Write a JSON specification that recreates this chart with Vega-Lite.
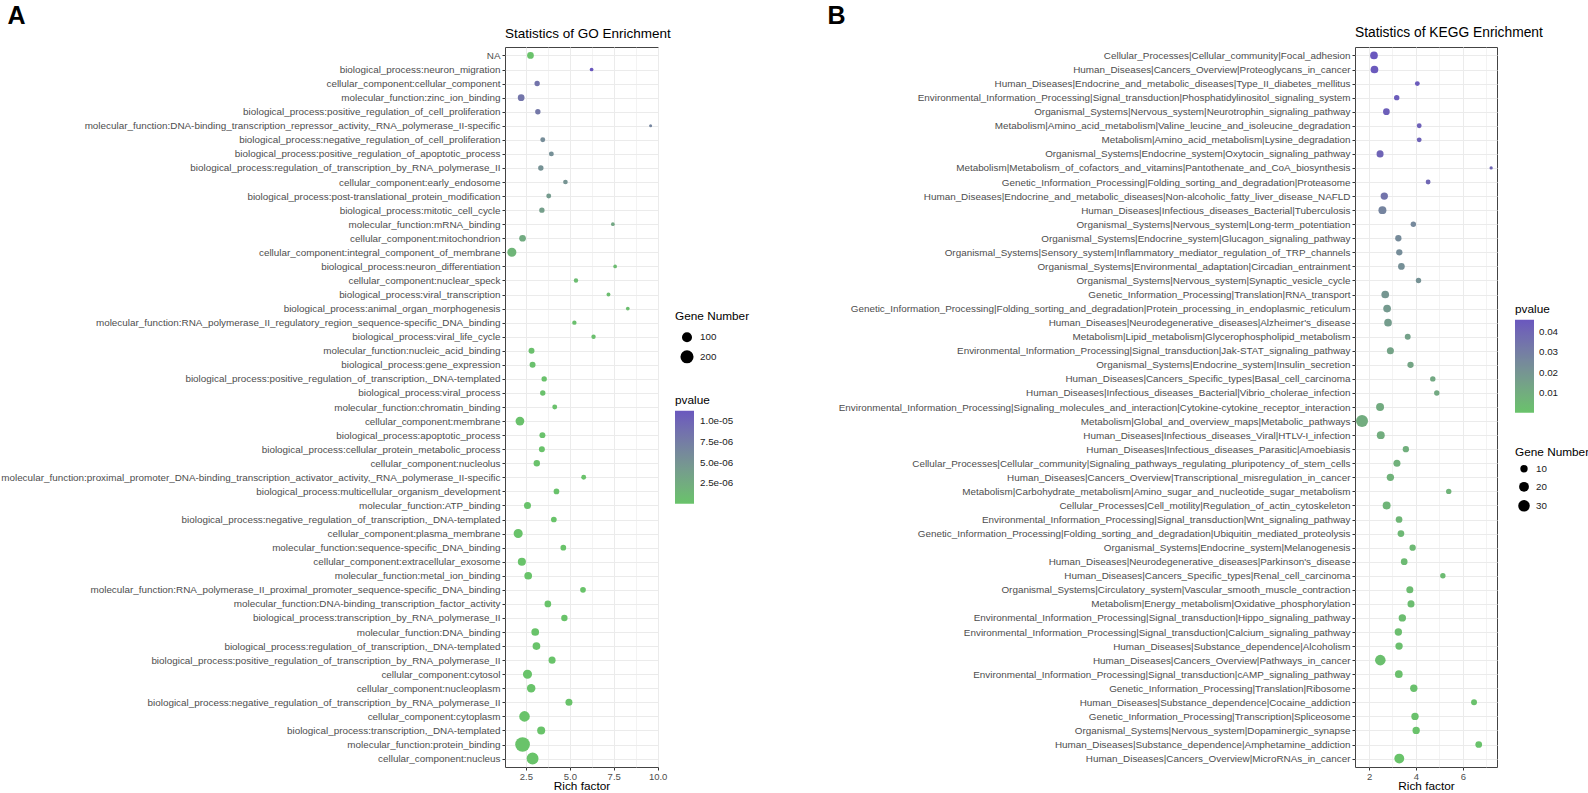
{
  "$schema": "https://vega.github.io/schema/vega-lite/v6.json",
  "background": "white",
  "padding": {"left": 0, "top": 2, "right": 0, "bottom": 0},
  "bounds": "flush",
  "spacing": 697,
  "config": {
    "font": "Liberation Sans",
    "view": {"stroke": "#444444", "strokeWidth": 1},
    "legend": {"titleFontSize": 11.8, "titleFontWeight": "normal", "titleColor": "#000000", "labelFontSize": 9.8, "labelColor": "#1a1a1a", "padding": 0, "labelOffset": 6}
  },
  "resolve": {
    "scale": {"color": "independent", "size": "independent", "x": "independent", "y": "independent"},
    "legend": {"color": "independent", "size": "independent"}
  },
  "datasets": {
    "go": [
      {"term": "NA", "rich": 2.76, "gene": 35, "pvalue": 1.0e-7},
      {"term": "biological_process:neuron_migration", "rich": 6.24, "gene": 8, "pvalue": 1.13e-5},
      {"term": "cellular_component:cellular_component", "rich": 3.14, "gene": 20, "pvalue": 8.4e-6},
      {"term": "molecular_function:zinc_ion_binding", "rich": 2.23, "gene": 35, "pvalue": 8.3e-6},
      {"term": "biological_process:positive_regulation_of_cell_proliferation", "rich": 3.18, "gene": 20, "pvalue": 8.0e-6},
      {"term": "molecular_function:DNA-binding_transcription_repressor_activity,_RNA_polymerase_II-specific", "rich": 9.60, "gene": 5, "pvalue": 6.6e-6},
      {"term": "biological_process:negative_regulation_of_cell_proliferation", "rich": 3.46, "gene": 16, "pvalue": 5.8e-6},
      {"term": "biological_process:positive_regulation_of_apoptotic_process", "rich": 3.95, "gene": 16, "pvalue": 5.5e-6},
      {"term": "biological_process:regulation_of_transcription_by_RNA_polymerase_II", "rich": 3.35, "gene": 20, "pvalue": 5.3e-6},
      {"term": "cellular_component:early_endosome", "rich": 4.75, "gene": 14, "pvalue": 5.0e-6},
      {"term": "biological_process:post-translational_protein_modification", "rich": 3.80, "gene": 16, "pvalue": 4.3e-6},
      {"term": "biological_process:mitotic_cell_cycle", "rich": 3.41, "gene": 20, "pvalue": 3.9e-6},
      {"term": "molecular_function:mRNA_binding", "rich": 7.45, "gene": 8, "pvalue": 3.0e-6},
      {"term": "cellular_component:mitochondrion", "rich": 2.31, "gene": 35, "pvalue": 2.6e-6},
      {"term": "cellular_component:integral_component_of_membrane", "rich": 1.70, "gene": 77, "pvalue": 1.5e-6},
      {"term": "biological_process:neuron_differentiation", "rich": 7.58, "gene": 8, "pvalue": 8.0e-7},
      {"term": "cellular_component:nuclear_speck", "rich": 5.35, "gene": 12, "pvalue": 7.0e-7},
      {"term": "biological_process:viral_transcription", "rich": 7.20, "gene": 9, "pvalue": 6.0e-7},
      {"term": "biological_process:animal_organ_morphogenesis", "rich": 8.30, "gene": 8, "pvalue": 5.0e-7},
      {"term": "molecular_function:RNA_polymerase_II_regulatory_region_sequence-specific_DNA_binding", "rich": 5.26, "gene": 12, "pvalue": 4.5e-7},
      {"term": "biological_process:viral_life_cycle", "rich": 6.35, "gene": 12, "pvalue": 4.0e-7},
      {"term": "molecular_function:nucleic_acid_binding", "rich": 2.82, "gene": 26, "pvalue": 3.5e-7},
      {"term": "biological_process:gene_expression", "rich": 2.88, "gene": 26, "pvalue": 3.0e-7},
      {"term": "biological_process:positive_regulation_of_transcription,_DNA-templated", "rich": 3.54, "gene": 20, "pvalue": 2.5e-7},
      {"term": "biological_process:viral_process", "rich": 3.46, "gene": 20, "pvalue": 2.2e-7},
      {"term": "molecular_function:chromatin_binding", "rich": 4.14, "gene": 16, "pvalue": 2.0e-7},
      {"term": "cellular_component:membrane", "rich": 2.16, "gene": 70, "pvalue": 1.8e-7},
      {"term": "biological_process:apoptotic_process", "rich": 3.44, "gene": 26, "pvalue": 1.6e-7},
      {"term": "biological_process:cellular_protein_metabolic_process", "rich": 3.41, "gene": 26, "pvalue": 1.4e-7},
      {"term": "cellular_component:nucleolus", "rich": 3.12, "gene": 31, "pvalue": 1.2e-7},
      {"term": "molecular_function:proximal_promoter_DNA-binding_transcription_activator_activity,_RNA_polymerase_II-specific", "rich": 5.79, "gene": 16, "pvalue": 1.0e-7},
      {"term": "biological_process:multicellular_organism_development", "rich": 4.24, "gene": 23, "pvalue": 8.0e-8},
      {"term": "molecular_function:ATP_binding", "rich": 2.59, "gene": 39, "pvalue": 6.0e-8},
      {"term": "biological_process:negative_regulation_of_transcription,_DNA-templated", "rich": 4.09, "gene": 23, "pvalue": 5.0e-8},
      {"term": "cellular_component:plasma_membrane", "rich": 2.06, "gene": 77, "pvalue": 4.0e-8},
      {"term": "molecular_function:sequence-specific_DNA_binding", "rich": 4.63, "gene": 23, "pvalue": 3.0e-8},
      {"term": "cellular_component:extracellular_exosome", "rich": 2.27, "gene": 56, "pvalue": 2.0e-8},
      {"term": "molecular_function:metal_ion_binding", "rich": 2.63, "gene": 50, "pvalue": 1.5e-8},
      {"term": "molecular_function:RNA_polymerase_II_proximal_promoter_sequence-specific_DNA_binding", "rich": 5.75, "gene": 23, "pvalue": 1.0e-8},
      {"term": "molecular_function:DNA-binding_transcription_factor_activity", "rich": 3.75, "gene": 35, "pvalue": 7.0e-9},
      {"term": "biological_process:transcription_by_RNA_polymerase_II", "rich": 4.69, "gene": 31, "pvalue": 5.0e-9},
      {"term": "molecular_function:DNA_binding", "rich": 3.03, "gene": 50, "pvalue": 3.0e-9},
      {"term": "biological_process:regulation_of_transcription,_DNA-templated", "rich": 3.10, "gene": 50, "pvalue": 2.0e-9},
      {"term": "biological_process:positive_regulation_of_transcription_by_RNA_polymerase_II", "rich": 3.99, "gene": 39, "pvalue": 1.0e-9},
      {"term": "cellular_component:cytosol", "rich": 2.59, "gene": 77, "pvalue": 5.0e-10},
      {"term": "cellular_component:nucleoplasm", "rich": 2.80, "gene": 64, "pvalue": 2.0e-10},
      {"term": "biological_process:negative_regulation_of_transcription_by_RNA_polymerase_II", "rich": 4.95, "gene": 39, "pvalue": 1.0e-10},
      {"term": "cellular_component:cytoplasm", "rich": 2.42, "gene": 113, "pvalue": 5.0e-11},
      {"term": "biological_process:transcription,_DNA-templated", "rich": 3.37, "gene": 56, "pvalue": 2.0e-11},
      {"term": "molecular_function:protein_binding", "rich": 2.31, "gene": 270, "pvalue": 1.0e-11},
      {"term": "cellular_component:nucleus", "rich": 2.88, "gene": 155, "pvalue": 1.0e-12}
    ],
    "kegg": [
      {"term": "Cellular_Processes|Cellular_community|Focal_adhesion", "rich": 2.21, "gene": 11, "pvalue": 0.0462},
      {"term": "Human_Diseases|Cancers_Overview|Proteoglycans_in_cancer", "rich": 2.23, "gene": 11, "pvalue": 0.0455},
      {"term": "Human_Diseases|Endocrine_and_metabolic_diseases|Type_II_diabetes_mellitus", "rich": 4.06, "gene": 4, "pvalue": 0.0448},
      {"term": "Environmental_Information_Processing|Signal_transduction|Phosphatidylinositol_signaling_system", "rich": 3.18, "gene": 5, "pvalue": 0.0440},
      {"term": "Organismal_Systems|Nervous_system|Neurotrophin_signaling_pathway", "rich": 2.74, "gene": 8, "pvalue": 0.0432},
      {"term": "Metabolism|Amino_acid_metabolism|Valine_leucine_and_isoleucine_degradation", "rich": 4.14, "gene": 4, "pvalue": 0.0425},
      {"term": "Metabolism|Amino_acid_metabolism|Lysine_degradation", "rich": 4.14, "gene": 4, "pvalue": 0.0420},
      {"term": "Organismal_Systems|Endocrine_system|Oxytocin_signaling_pathway", "rich": 2.47, "gene": 9, "pvalue": 0.0412},
      {"term": "Metabolism|Metabolism_of_cofactors_and_vitamins|Pantothenate_and_CoA_biosynthesis", "rich": 7.21, "gene": 2, "pvalue": 0.0405},
      {"term": "Genetic_Information_Processing|Folding_sorting_and_degradation|Proteasome", "rich": 4.52, "gene": 4, "pvalue": 0.0398},
      {"term": "Human_Diseases|Endocrine_and_metabolic_diseases|Non-alcoholic_fatty_liver_disease_NAFLD", "rich": 2.65, "gene": 10, "pvalue": 0.0345},
      {"term": "Human_Diseases|Infectious_diseases_Bacterial|Tuberculosis", "rich": 2.57, "gene": 12, "pvalue": 0.0275},
      {"term": "Organismal_Systems|Nervous_system|Long-term_potentiation", "rich": 3.89, "gene": 5, "pvalue": 0.0255},
      {"term": "Organismal_Systems|Endocrine_system|Glucagon_signaling_pathway", "rich": 3.25, "gene": 7, "pvalue": 0.0245},
      {"term": "Organismal_Systems|Sensory_system|Inflammatory_mediator_regulation_of_TRP_channels", "rich": 3.29, "gene": 7, "pvalue": 0.0238},
      {"term": "Organismal_Systems|Environmental_adaptation|Circadian_entrainment", "rich": 3.38, "gene": 8, "pvalue": 0.0225},
      {"term": "Organismal_Systems|Nervous_system|Synaptic_vesicle_cycle", "rich": 4.11, "gene": 5, "pvalue": 0.0215},
      {"term": "Genetic_Information_Processing|Translation|RNA_transport", "rich": 2.69, "gene": 11, "pvalue": 0.0195},
      {"term": "Genetic_Information_Processing|Folding_sorting_and_degradation|Protein_processing_in_endoplasmic_reticulum", "rich": 2.77, "gene": 11, "pvalue": 0.0180},
      {"term": "Human_Diseases|Neurodegenerative_diseases|Alzheimer's_disease", "rich": 2.81, "gene": 11, "pvalue": 0.0168},
      {"term": "Metabolism|Lipid_metabolism|Glycerophospholipid_metabolism", "rich": 3.65, "gene": 6, "pvalue": 0.0150},
      {"term": "Environmental_Information_Processing|Signal_transduction|Jak-STAT_signaling_pathway", "rich": 2.91, "gene": 9, "pvalue": 0.0140},
      {"term": "Organismal_Systems|Endocrine_system|Insulin_secretion", "rich": 3.77, "gene": 7, "pvalue": 0.0130},
      {"term": "Human_Diseases|Cancers_Specific_types|Basal_cell_carcinoma", "rich": 4.72, "gene": 5, "pvalue": 0.0118},
      {"term": "Human_Diseases|Infectious_diseases_Bacterial|Vibrio_cholerae_infection", "rich": 4.89, "gene": 5, "pvalue": 0.0112},
      {"term": "Environmental_Information_Processing|Signaling_molecules_and_interaction|Cytokine-cytokine_receptor_interaction", "rich": 2.47, "gene": 12, "pvalue": 0.0105},
      {"term": "Metabolism|Global_and_overview_maps|Metabolic_pathways", "rich": 1.70, "gene": 33, "pvalue": 0.0100},
      {"term": "Human_Diseases|Infectious_diseases_Viral|HTLV-I_infection", "rich": 2.50, "gene": 12, "pvalue": 0.0095},
      {"term": "Human_Diseases|Infectious_diseases_Parasitic|Amoebiasis", "rich": 3.57, "gene": 7, "pvalue": 0.0088},
      {"term": "Cellular_Processes|Cellular_community|Signaling_pathways_regulating_pluripotency_of_stem_cells", "rich": 3.19, "gene": 9, "pvalue": 0.0080},
      {"term": "Human_Diseases|Cancers_Overview|Transcriptional_misregulation_in_cancer", "rich": 2.91, "gene": 10, "pvalue": 0.0074},
      {"term": "Metabolism|Carbohydrate_metabolism|Amino_sugar_and_nucleotide_sugar_metabolism", "rich": 5.40, "gene": 5, "pvalue": 0.0068},
      {"term": "Cellular_Processes|Cell_motility|Regulation_of_actin_cytoskeleton", "rich": 2.75, "gene": 12, "pvalue": 0.0062},
      {"term": "Environmental_Information_Processing|Signal_transduction|Wnt_signaling_pathway", "rich": 3.28, "gene": 8, "pvalue": 0.0056},
      {"term": "Genetic_Information_Processing|Folding_sorting_and_degradation|Ubiquitin_mediated_proteolysis", "rich": 3.36, "gene": 8, "pvalue": 0.0050},
      {"term": "Organismal_Systems|Endocrine_system|Melanogenesis", "rich": 3.86, "gene": 7, "pvalue": 0.0045},
      {"term": "Human_Diseases|Neurodegenerative_diseases|Parkinson's_disease", "rich": 3.50, "gene": 8, "pvalue": 0.0040},
      {"term": "Human_Diseases|Cancers_Specific_types|Renal_cell_carcinoma", "rich": 5.15, "gene": 5, "pvalue": 0.0036},
      {"term": "Organismal_Systems|Circulatory_system|Vascular_smooth_muscle_contraction", "rich": 3.74, "gene": 9, "pvalue": 0.0032},
      {"term": "Metabolism|Energy_metabolism|Oxidative_phosphorylation", "rich": 3.79, "gene": 9, "pvalue": 0.0028},
      {"term": "Environmental_Information_Processing|Signal_transduction|Hippo_signaling_pathway", "rich": 3.42, "gene": 10, "pvalue": 0.0025},
      {"term": "Environmental_Information_Processing|Signal_transduction|Calcium_signaling_pathway", "rich": 3.25, "gene": 10, "pvalue": 0.0022},
      {"term": "Human_Diseases|Substance_dependence|Alcoholism", "rich": 3.28, "gene": 10, "pvalue": 0.0019},
      {"term": "Human_Diseases|Cancers_Overview|Pathways_in_cancer", "rich": 2.48, "gene": 24, "pvalue": 0.0016},
      {"term": "Environmental_Information_Processing|Signal_transduction|cAMP_signaling_pathway", "rich": 3.27, "gene": 11, "pvalue": 0.0013},
      {"term": "Genetic_Information_Processing|Translation|Ribosome", "rich": 3.91, "gene": 10, "pvalue": 0.0011},
      {"term": "Human_Diseases|Substance_dependence|Cocaine_addiction", "rich": 6.48, "gene": 6, "pvalue": 0.0009},
      {"term": "Genetic_Information_Processing|Transcription|Spliceosome", "rich": 3.96, "gene": 10, "pvalue": 0.0007},
      {"term": "Organismal_Systems|Nervous_system|Dopaminergic_synapse", "rich": 4.01, "gene": 10, "pvalue": 0.0005},
      {"term": "Human_Diseases|Substance_dependence|Amphetamine_addiction", "rich": 6.68, "gene": 8, "pvalue": 0.0003},
      {"term": "Human_Diseases|Cancers_Overview|MicroRNAs_in_cancer", "rich": 3.29, "gene": 20, "pvalue": 0.0001}
    ]
  },
  "hconcat": [
    {
      "data": {"name": "go"},
      "width": 153,
      "height": 720,
      "title": {"text": "Statistics of GO Enrichment", "anchor": "start", "frame": "group", "fontSize": 13.5, "fontWeight": "normal", "color": "#000000", "offset": 9, "dy": 57, "baseline": "alphabetic"},
      "mark": {"type": "circle", "opacity": 1},
      "encoding": {
        "y": {
          "field": "term", "type": "nominal", "sort": null,
          "scale": {"type": "point", "padding": 0.6},
          "axis": {
            "title": "A", "titleAngle": 0, "titleX": -498, "titleY": -44, "titleAlign": "left", "titleBaseline": "top",
            "titleFontSize": 25, "titleFontWeight": "bold", "titleColor": "#000000",
            "labelFontSize": 9.9, "labelColor": "#4D4D4D", "labelPadding": 2, "labelLimit": 0,
            "tickSize": 3, "tickColor": "#333333", "domain": false,
            "grid": true, "gridColor": "#EBEBEB", "gridWidth": 1
          }
        },
        "x": {
          "field": "rich", "type": "quantitative",
          "scale": {"domain": [1.31, 10.02], "nice": false, "zero": false},
          "axis": {
            "title": "Rich factor", "titleFontSize": 11.8, "titleFontWeight": "normal", "titleColor": "#000000", "titlePadding": 0,
            "values": [2.5, 3.75, 5, 6.25, 7.5, 8.75, 10],
            "labelExpr": "datum.value % 2.5 === 0 ? format(datum.value, '.1f') : ''",
            "labelFontSize": 9.5, "labelColor": "#4D4D4D", "labelPadding": 1, "labelFlush": false, "labelOverlap": false,
            "tickSize": 3, "tickColor": "#333333",
            "tickOpacity": {"condition": {"test": "datum.value % 2.5 !== 0", "value": 0}, "value": 1},
            "domain": false, "grid": true, "gridColor": "#EBEBEB",
            "gridWidth": {"condition": {"test": "datum.value % 2.5 !== 0", "value": 0.6}, "value": 1}
          }
        },
        "size": {
          "field": "gene", "type": "quantitative",
          "scale": {"type": "pow", "exponent": 0.75, "domain": [5, 270], "range": [9, 216]},
          "legend": {"title": "Gene Number", "orient": "none", "legendX": 170, "legendY": 264, "values": [100, 200],
                     "symbolFillColor": "#000000", "symbolStrokeWidth": 0, "symbolType": "circle", "titlePadding": 9, "rowPadding": 7, "symbolOffset": 5}
        },
        "color": {
          "field": "pvalue", "type": "quantitative",
          "scale": {"domain": [0, 1.13e-5], "range": ["#69C36A", "#6A58BE"], "interpolate": "lab"},
          "legend": {"title": "pvalue", "orient": "none", "legendX": 170, "legendY": 348, "direction": "vertical",
                     "values": [2.5e-6, 5e-6, 7.5e-6, 1e-5], "gradientLength": 93, "gradientThickness": 19, "gradientStrokeWidth": 0,
                     "labelExpr": "replace(format(datum.value, '.1e'), 'e-', 'e-0')", "labelOverlap": false, "titlePadding": 4, "labelOffset": 6}
        }
      }
    },
    {
      "data": {"name": "kegg"},
      "width": 142,
      "height": 720,
      "title": {"text": "Statistics of KEGG Enrichment", "anchor": "start", "frame": "group", "fontSize": 13.8, "fontWeight": "normal", "color": "#000000", "offset": 9, "dy": 57, "baseline": "alphabetic"},
      "mark": {"type": "circle", "opacity": 1},
      "encoding": {
        "y": {
          "field": "term", "type": "nominal", "sort": null,
          "scale": {"type": "point", "padding": 0.6},
          "axis": {
            "title": "B", "titleAngle": 0, "titleX": -528, "titleY": -44, "titleAlign": "left", "titleBaseline": "top",
            "titleFontSize": 25, "titleFontWeight": "bold", "titleColor": "#000000",
            "labelFontSize": 9.9, "labelColor": "#4D4D4D", "labelPadding": 2, "labelLimit": 0,
            "tickSize": 3, "tickColor": "#333333", "domain": false,
            "grid": true, "gridColor": "#EBEBEB", "gridWidth": 1
          }
        },
        "x": {
          "field": "rich", "type": "quantitative",
          "scale": {"domain": [1.40, 7.46], "nice": false, "zero": false},
          "axis": {
            "title": "Rich factor", "titleFontSize": 11.8, "titleFontWeight": "normal", "titleColor": "#000000", "titlePadding": 0,
            "values": [2, 3, 4, 5, 6, 7],
            "labelExpr": "datum.value % 2 === 0 ? format(datum.value, 'd') : ''",
            "labelFontSize": 9.5, "labelColor": "#4D4D4D", "labelPadding": 1, "labelFlush": false, "labelOverlap": false,
            "tickSize": 3, "tickColor": "#333333",
            "tickOpacity": {"condition": {"test": "datum.value % 2 !== 0", "value": 0}, "value": 1},
            "domain": false, "grid": true, "gridColor": "#EBEBEB",
            "gridWidth": {"condition": {"test": "datum.value % 2 !== 0", "value": 0.6}, "value": 1}
          }
        },
        "size": {
          "field": "gene", "type": "quantitative",
          "scale": {"type": "pow", "exponent": 0.75, "domain": [2, 33], "range": [11, 144]},
          "legend": {"title": "Gene Number", "orient": "none", "legendX": 160, "legendY": 400, "values": [10, 20, 30],
                     "symbolFillColor": "#000000", "symbolStrokeWidth": 0, "symbolType": "circle", "titlePadding": 5, "rowPadding": 8, "symbolOffset": 3}
        },
        "color": {
          "field": "pvalue", "type": "quantitative",
          "scale": {"domain": [0, 0.0462], "range": ["#69C36A", "#6A58BE"], "interpolate": "lab"},
          "legend": {"title": "pvalue", "orient": "none", "legendX": 160, "legendY": 257, "direction": "vertical",
                     "values": [0.01, 0.02, 0.03, 0.04], "gradientLength": 93, "gradientThickness": 19, "gradientStrokeWidth": 0,
                     "labelOverlap": false, "titlePadding": 4, "labelOffset": 5}
        }
      }
    }
  ]
}
